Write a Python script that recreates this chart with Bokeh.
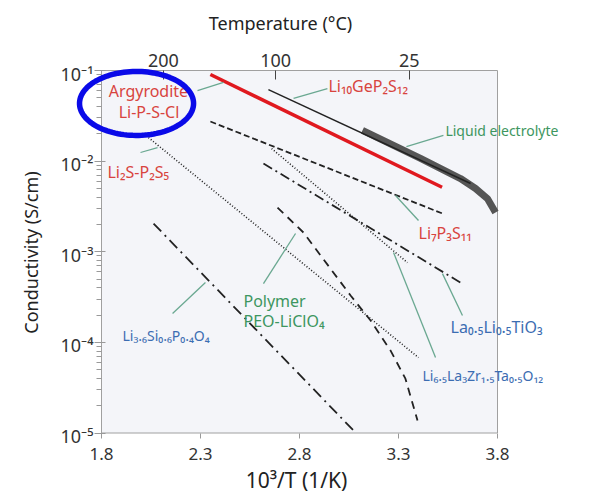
import numpy as np
from bokeh.plotting import figure
from bokeh.models import (LinearAxis, LogAxis, FixedTicker, Range1d, Label, PolyAnnotation)
from bokeh.core.properties import value
from bokeh.embed import file_html
from bokeh.resources import INLINE

# ---------------- data (x = 1000/T in 1/K, y = conductivity in S/cm) ----------------
argyrodite_x = [2.35, 3.52]
argyrodite_y = [0.0903, 0.00515]

lgps_x = [2.643, 3.664]
lgps_y = [0.0616, 0.00566]

liquid_x = [3.118, 3.411, 3.613, 3.689, 3.749, 3.790]
liquid_y = [0.0218, 0.0107, 0.00643, 0.00499, 0.00386, 0.00271]

li7p3s11_x = [2.35, 3.522]
li7p3s11_y = [0.02735, 0.002642]

li2s_p2s5_x = [2.037, 3.401]
li2s_p2s5_y = [0.0182, 6.79e-5]

llzo_x = [2.659, 3.345]
llzo_y = [0.01377, 7.60e-4]

llto_x = [2.618, 3.613]
llto_y = [0.00942, 4.57e-4]

peo_x = [2.689, 2.820, 3.058, 3.159, 3.260, 3.335, 3.396]
peo_y = [0.003076, 0.001629, 3.289e-4, 1.742e-4, 8.11e-5, 3.98e-5, 1.371e-5]

lisicon_x = [2.063, 3.083]
lisicon_y = [0.002046, 1.009e-5]

x_ticks = [1.8, 2.3, 2.8, 3.3, 3.8]
y_ticks = [1e-5, 1e-4, 1e-3, 1e-2, 1e-1]
y_tick_labels = ["10\u207b\u2075", "10\u207b\u2074", "10\u207b\u00b3", "10\u207b\u00b2", "10\u207b\u00b9"]
temp_c = [200, 100, 25]
temp_tick_labels = ["200", "100", "25"]

RED = "#d8443e"
GREEN = "#3d9660"
BLUE = "#3c6db2"
# labels: (text, x, y, color, align, font size)
labels = [
    ("Argyrodite", 2.037, 0.0601, RED, "center", "16px"),
    ("Li-P-S-Cl", 2.040, 0.0344, RED, "center", "16px"),
    ("Li\u2081\u2080GeP\u2082S\u2081\u2082", 2.946, 0.0682, RED, "left", "16px"),
    ("Liquid electrolyte", 3.537, 0.0218, GREEN, "left", "14px"),
    ("Li\u2082S-P\u2082S\u2085", 1.830, 0.00767, RED, "left", "16px"),
    ("Li\u2087P\u2083S\u2081\u2081", 3.401, 0.00163, RED, "left", "16px"),
    ("Polymer", 2.517, 2.89e-4, GREEN, "left", "16px"),
    ("PEO-LiClO\u2084", 2.517, 1.74e-4, GREEN, "left", "16px"),
    ("Li\u2083.\u2086Si\u2080.\u2086P\u2080.\u2084O\u2084", 1.906, 1.19e-4, BLUE, "left", "14px"),
    ("La\u2080.\u2085Li\u2080.\u2085TiO\u2083", 3.563, 1.49e-4, BLUE, "left", "16px"),
    ("Li\u2086.\u2085La\u2083Zr\u2081.\u2085Ta\u2080.\u2085O\u2081\u2082", 3.421, 4.31e-5, BLUE, "left", "14px"),
]

leader_x0 = [2.285, 2.770, 3.340, 1.997, 3.285, 2.618, 2.159, 3.623, 3.487]
leader_y0 = [0.0601, 0.0491, 0.01449, 0.01245, 0.00417, 4.46e-4, 2.08e-4, 1.98e-4, 6.79e-5]
leader_x1 = [2.416, 2.941, 3.527, 2.083, 3.401, 2.780, 2.325, 3.522, 3.275]
leader_y1 = [0.0738, 0.0632, 0.01919, 0.01413, 0.00221, 1.59e-3, 4.57e-4, 5.74e-4, 9.80e-4]

# highlight ellipse (centre in data units, semi-axes in x units / decades)
ell_cx, ell_cy, ell_ax, ell_bdec = 1.977, 0.0433, 0.288, 0.353

# ---------------- layout: the frame covers the whole canvas ----------------
W, H = 591, 494
BOX_L, BOX_R, BOX_T, BOX_B = 101, 497, 70, 432.5   # pixel box of the axes
px_per_x = (BOX_R - BOX_L) / (x_ticks[-1] - x_ticks[0])
px_per_dec = (BOX_B - BOX_T) / (np.log10(y_ticks[-1]) - np.log10(y_ticks[0]))
x_lo = x_ticks[0] - BOX_L / px_per_x
x_hi = x_ticks[-1] + (W - BOX_R) / px_per_x
y_hi = 10 ** (np.log10(y_ticks[-1]) + BOX_T / px_per_dec)
y_lo = 10 ** (np.log10(y_ticks[0]) - (H - BOX_B) / px_per_dec)

FONT = "Noto Sans"

p = figure(width=W, height=H, x_range=Range1d(x_lo, x_hi), y_range=Range1d(y_lo, y_hi),
           y_axis_type="log", x_axis_location=None, y_axis_location=None,
           output_backend="svg", toolbar_location=None,
           background_fill_color="white", border_fill_color="white", min_border=0)
p.grid.visible = False
p.outline_line_color = None

# plot box
p.quad(left=[x_ticks[0]], right=[x_ticks[-1]], bottom=[y_ticks[0]], top=[y_ticks[-1]],
       fill_color="#f4f5f9", line_color="#a0a0a0", line_width=1)

# bottom axis
xa = LinearAxis(fixed_location=y_ticks[0], ticker=FixedTicker(ticks=x_ticks))
xa.major_label_text_font = FONT
xa.major_label_text_font_size = "17px"
xa.major_label_text_color = "#333333"
xa.major_label_standoff = 10
xa.major_tick_in = 0
xa.major_tick_out = 5
xa.major_tick_line_color = "#999999"
xa.minor_tick_line_color = None
xa.axis_line_color = None
p.add_layout(xa, "below")

# left axis (ticks; labels drawn as text so they sit on the tick)
ya = LogAxis(fixed_location=x_ticks[0])
minor = [m * 10.0 ** e for e in range(-5, -1) for m in range(2, 10)]
ya.ticker = FixedTicker(ticks=y_ticks, minor_ticks=minor)
ya.major_label_overrides = {tk: "" for tk in y_ticks}
ya.major_label_text_font = FONT
ya.major_label_text_font_size = "18px"
ya.major_tick_in = 4
ya.major_tick_out = 7
ya.minor_tick_in = 0
ya.minor_tick_out = 5
ya.major_tick_line_color = "#999999"
ya.minor_tick_line_color = "#999999"
ya.axis_line_color = None
p.add_layout(ya, "left")
p.text(x=[x_ticks[0]] * len(y_ticks), y=y_ticks, text=y_tick_labels, x_offset=-8, y_offset=3,
       text_align="right", text_baseline="alphabetic", text_font=value(FONT),
       text_font_size=value("18px"), text_color="#333333")

# top axis: temperature in °C
temp_pos = [round(1000.0 / (t + 273.15), 3) for t in temp_c]
ta = LinearAxis(fixed_location=y_ticks[-1], ticker=FixedTicker(ticks=temp_pos),
                major_label_overrides={tp: s for tp, s in zip(temp_pos, temp_tick_labels)})
ta.major_label_text_font = FONT
ta.major_label_text_font_size = "18px"
ta.major_label_text_color = "#333333"
ta.major_label_standoff = 4
ta.major_tick_in = 9
ta.major_tick_out = 0
ta.major_tick_line_color = "#444444"
ta.minor_tick_line_color = None
ta.axis_line_color = None
p.add_layout(ta, "above")

# axis titles (screen placed)
p.add_layout(Label(x=280, y=H - 22, x_units="screen", y_units="screen", text="Temperature (\u00b0C)",
                   text_align="center", text_baseline="middle", text_font=FONT,
                   text_font_size="18px", text_color="#222222"))
p.add_layout(Label(x=30, y=H - 252, x_units="screen", y_units="screen", text="Conductivity (S/cm)",
                   angle=np.pi / 2, text_align="center", text_baseline="middle", text_font=FONT,
                   text_font_size="18px", text_color="#222222"))
p.add_layout(Label(x=296, y=H - 479, x_units="screen", y_units="screen", text="10\u00b3/T (1/K)",
                   text_align="center", text_baseline="middle", text_font=FONT,
                   text_font_size="21px", text_color="#222222"))

# curves
p.line(li2s_p2s5_x, li2s_p2s5_y, line_color="#222222", line_width=1.6, line_dash="1 2")
p.line(llzo_x, llzo_y, line_color="#222222", line_width=1.6, line_dash="1 2")
p.line(llto_x, llto_y, line_color="#222222", line_width=1.8, line_dash="10 4 2 4")
p.line(lisicon_x, lisicon_y, line_color="#222222", line_width=1.8, line_dash="11 5 2 5")
p.line(peo_x, peo_y, line_color="#222222", line_width=1.8, line_dash="8 6")
p.line(li7p3s11_x, li7p3s11_y, line_color="#222222", line_width=1.8, line_dash="6 3")
p.line(liquid_x, liquid_y, line_color="#555555", line_width=7)
p.line(lgps_x, lgps_y, line_color="#222222", line_width=1.5)
p.line(argyrodite_x, argyrodite_y, line_color="#e0191f", line_width=3.5)

# leader lines
p.segment(leader_x0, leader_y0, leader_x1, leader_y1, line_color="#6aa891", line_width=1.3)

for text, lx, ly, col, al, fs in labels:
    p.add_layout(Label(x=lx, y=ly, text=text, text_color=col, text_align=al,
                       text_baseline="middle", text_font=FONT, text_font_size=fs))

# blue highlight ellipse
t = np.linspace(0, 2 * np.pi, 120)
ex = ell_cx + ell_ax * np.cos(t)
ey = 10 ** (np.log10(ell_cy) + ell_bdec * np.sin(t))
p.add_layout(PolyAnnotation(xs=list(ex), ys=list(ey), fill_alpha=0, line_color="#0a0ae8",
                            line_alpha=1.0, line_width=5.5))

open("out.html", "w").write(file_html(p, INLINE))
